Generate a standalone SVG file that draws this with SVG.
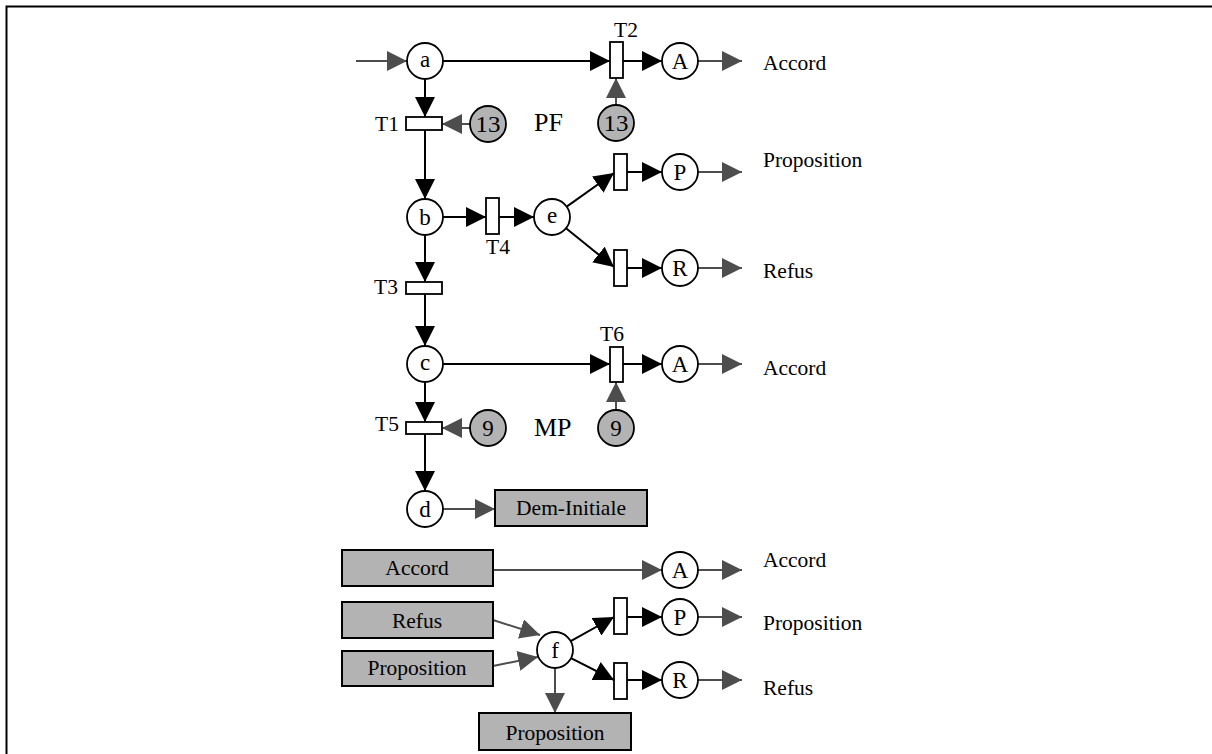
<svg xmlns="http://www.w3.org/2000/svg" width="1212" height="754" viewBox="0 0 1212 754">
<style>
text{font-family:"Liberation Serif","Times New Roman",serif;fill:#000}
.lbl{font-size:21.5px}
.big{font-size:26px}
.ct{font-size:23px;text-anchor:middle}
.bt{font-size:21.5px;text-anchor:middle}
.place{fill:#fff;stroke:#000;stroke-width:1.8}
.tok{fill:#b3b3b3;stroke:#000;stroke-width:1.8}
.tr{fill:#fff;stroke:#000;stroke-width:1.8}
.box{fill:#b3b3b3;stroke:#000;stroke-width:2}
.bk{stroke:#000;stroke-width:2;fill:none;marker-end:url(#ab)}
.gr{stroke:#4d4d4d;stroke-width:2;fill:none;marker-end:url(#ag)}
</style>
<defs>
<marker id="ab" markerUnits="userSpaceOnUse" markerWidth="20" markerHeight="20" refX="20" refY="10" orient="auto"><path d="M0,0 L20,10 L0,20 z" fill="#000"/></marker>
<marker id="ag" markerUnits="userSpaceOnUse" markerWidth="20" markerHeight="20" refX="20" refY="10" orient="auto"><path d="M0,0 L20,10 L0,20 z" fill="#4d4d4d"/></marker>
</defs>
<rect width="1212" height="754" fill="#fff"/>
<path d="M6.5 754 V6.5 H1212" fill="none" stroke="#000" stroke-width="2"/>

<g id="connectors">
<line class="gr" x1="356" y1="61" x2="407" y2="61"/>
<line class="bk" x1="443" y1="61" x2="610" y2="61"/>
<line class="bk" x1="623" y1="61" x2="662" y2="61"/>
<line class="gr" x1="693" y1="61" x2="742" y2="61"/>
<line class="bk" x1="425" y1="79" x2="425" y2="117"/>
<line class="gr" x1="470" y1="124" x2="442" y2="124"/>
<line class="gr" x1="616" y1="105" x2="616" y2="78"/>
<line class="bk" x1="425" y1="130" x2="425" y2="199"/>
<line class="bk" x1="443" y1="217" x2="486" y2="217"/>
<line class="bk" x1="499" y1="217" x2="534" y2="217"/>
<line class="bk" x1="566.7" y1="206.6" x2="614" y2="173"/>
<line class="bk" x1="566" y1="228.3" x2="614" y2="267"/>
<line class="bk" x1="627" y1="172" x2="662" y2="172"/>
<line class="bk" x1="627" y1="268" x2="662" y2="268"/>
<line class="gr" x1="693" y1="172" x2="742" y2="172"/>
<line class="gr" x1="693" y1="268" x2="742" y2="268"/>
<line class="bk" x1="425" y1="235" x2="425" y2="282"/>
<line class="bk" x1="425" y1="294" x2="425" y2="346"/>
<line class="bk" x1="443" y1="364" x2="610" y2="364"/>
<line class="bk" x1="623" y1="364" x2="662" y2="364"/>
<line class="gr" x1="693" y1="364" x2="742" y2="364"/>
<line class="bk" x1="425" y1="382" x2="425" y2="422"/>
<line class="gr" x1="470" y1="428" x2="442" y2="428"/>
<line class="gr" x1="616" y1="410" x2="616" y2="382"/>
<line class="bk" x1="425" y1="434" x2="425" y2="491"/>
<line class="gr" x1="443" y1="509" x2="495" y2="509"/>
<line class="gr" x1="493" y1="570" x2="662" y2="570"/>
<line class="gr" x1="693" y1="570" x2="742" y2="570"/>
<line class="gr" x1="493" y1="620" x2="540" y2="635"/>
<line class="gr" x1="493" y1="666" x2="538" y2="657"/>
<line class="gr" x1="555" y1="668" x2="555" y2="713"/>
<line class="bk" x1="570.7" y1="641.2" x2="614" y2="617"/>
<line class="bk" x1="571" y1="658.2" x2="614" y2="680"/>
<line class="bk" x1="627" y1="617" x2="662" y2="617"/>
<line class="bk" x1="627" y1="680" x2="662" y2="680"/>
<line class="gr" x1="693" y1="617" x2="742" y2="617"/>
<line class="gr" x1="693" y1="680" x2="742" y2="680"/>
</g>

<g id="place-a"><circle class="place" cx="425" cy="61" r="18"/><text class="ct" x="425" y="67">a</text></g>
<g id="place-b"><circle class="place" cx="425" cy="217" r="18"/><text class="ct" x="425" y="225">b</text></g>
<g id="place-c"><circle class="place" cx="425" cy="364" r="18"/><text class="ct" x="425" y="370">c</text></g>
<g id="place-d"><circle class="place" cx="425" cy="509" r="18"/><text class="ct" x="425" y="517">d</text></g>
<g id="place-e"><circle class="place" cx="552" cy="217" r="18"/><text class="ct" x="552" y="223">e</text></g>
<g id="place-f"><circle class="place" cx="555" cy="650" r="18"/><text class="ct" x="555" y="658">f</text></g>
<g id="place-A1"><circle class="place" cx="680" cy="61" r="18"/><text class="ct" x="680" y="69">A</text></g>
<g id="place-P1"><circle class="place" cx="680" cy="172" r="18"/><text class="ct" x="680" y="180">P</text></g>
<g id="place-R1"><circle class="place" cx="680" cy="268" r="18"/><text class="ct" x="680" y="276">R</text></g>
<g id="place-A2"><circle class="place" cx="680" cy="364" r="18"/><text class="ct" x="680" y="372">A</text></g>
<g id="place-A3"><circle class="place" cx="680" cy="570" r="18"/><text class="ct" x="680" y="578">A</text></g>
<g id="place-P3"><circle class="place" cx="680" cy="617" r="18"/><text class="ct" x="680" y="625">P</text></g>
<g id="place-R3"><circle class="place" cx="680" cy="680" r="18"/><text class="ct" x="680" y="688">R</text></g>

<g id="token-13a"><circle class="tok" cx="488" cy="124" r="18"/><text class="ct" x="488" y="132" textLength="25" lengthAdjust="spacingAndGlyphs">13</text></g>
<g id="token-13b"><circle class="tok" cx="616" cy="123" r="18"/><text class="ct" x="616" y="131" textLength="25" lengthAdjust="spacingAndGlyphs">13</text></g>
<g id="token-9a"><circle class="tok" cx="488" cy="428" r="18"/><text class="ct" x="488" y="436">9</text></g>
<g id="token-9b"><circle class="tok" cx="616" cy="428" r="18"/><text class="ct" x="616" y="436">9</text></g>

<g id="T1"><rect class="tr" x="406" y="117" width="36" height="13"/><text class="lbl" x="399" y="131" text-anchor="end">T1</text></g>
<g id="T2"><rect class="tr" x="610" y="42" width="13" height="36"/><text class="lbl" x="626" y="37" text-anchor="middle">T2</text></g>
<g id="T3"><rect class="tr" x="406" y="282" width="36" height="12"/><text class="lbl" x="398" y="294" text-anchor="end">T3</text></g>
<g id="T4"><rect class="tr" x="486" y="198" width="13" height="36"/><text class="lbl" x="498" y="254" text-anchor="middle">T4</text></g>
<g id="T5"><rect class="tr" x="406" y="422" width="36" height="12"/><text class="lbl" x="399" y="431" text-anchor="end">T5</text></g>
<g id="T6"><rect class="tr" x="610" y="347" width="13" height="35"/><text class="lbl" x="612" y="341" text-anchor="middle">T6</text></g>
<g id="TP1"><rect class="tr" x="614" y="154" width="13" height="36"/></g>
<g id="TR1"><rect class="tr" x="614" y="250" width="13" height="36"/></g>
<g id="TP3"><rect class="tr" x="614" y="598" width="13" height="36"/></g>
<g id="TR3"><rect class="tr" x="614" y="663" width="13" height="36"/></g>

<g id="label-PF"><text class="big" x="534" y="131">PF</text></g>
<g id="label-MP"><text class="big" x="534" y="436">MP</text></g>

<g id="out-labels">
<text class="lbl" x="763" y="70">Accord</text>
<text class="lbl" x="763" y="167">Proposition</text>
<text class="lbl" x="763" y="278">Refus</text>
<text class="lbl" x="763" y="375">Accord</text>
<text class="lbl" x="763" y="567">Accord</text>
<text class="lbl" x="763" y="630">Proposition</text>
<text class="lbl" x="763" y="695">Refus</text>
</g>

<g id="box-dem"><rect class="box" x="495" y="490" width="152" height="36"/><text class="bt" x="571" y="515">Dem-Initiale</text></g>
<g id="box-accord"><rect class="box" x="342" y="550" width="151" height="36"/><text class="bt" x="417" y="575">Accord</text></g>
<g id="box-refus"><rect class="box" x="342" y="602" width="151" height="36"/><text class="bt" x="417" y="628">Refus</text></g>
<g id="box-prop"><rect class="box" x="342" y="651" width="151" height="35"/><text class="bt" x="417" y="675">Proposition</text></g>
<g id="box-prop2"><rect class="box" x="479" y="713" width="152" height="37"/><text class="bt" x="555" y="740">Proposition</text></g>
</svg>
